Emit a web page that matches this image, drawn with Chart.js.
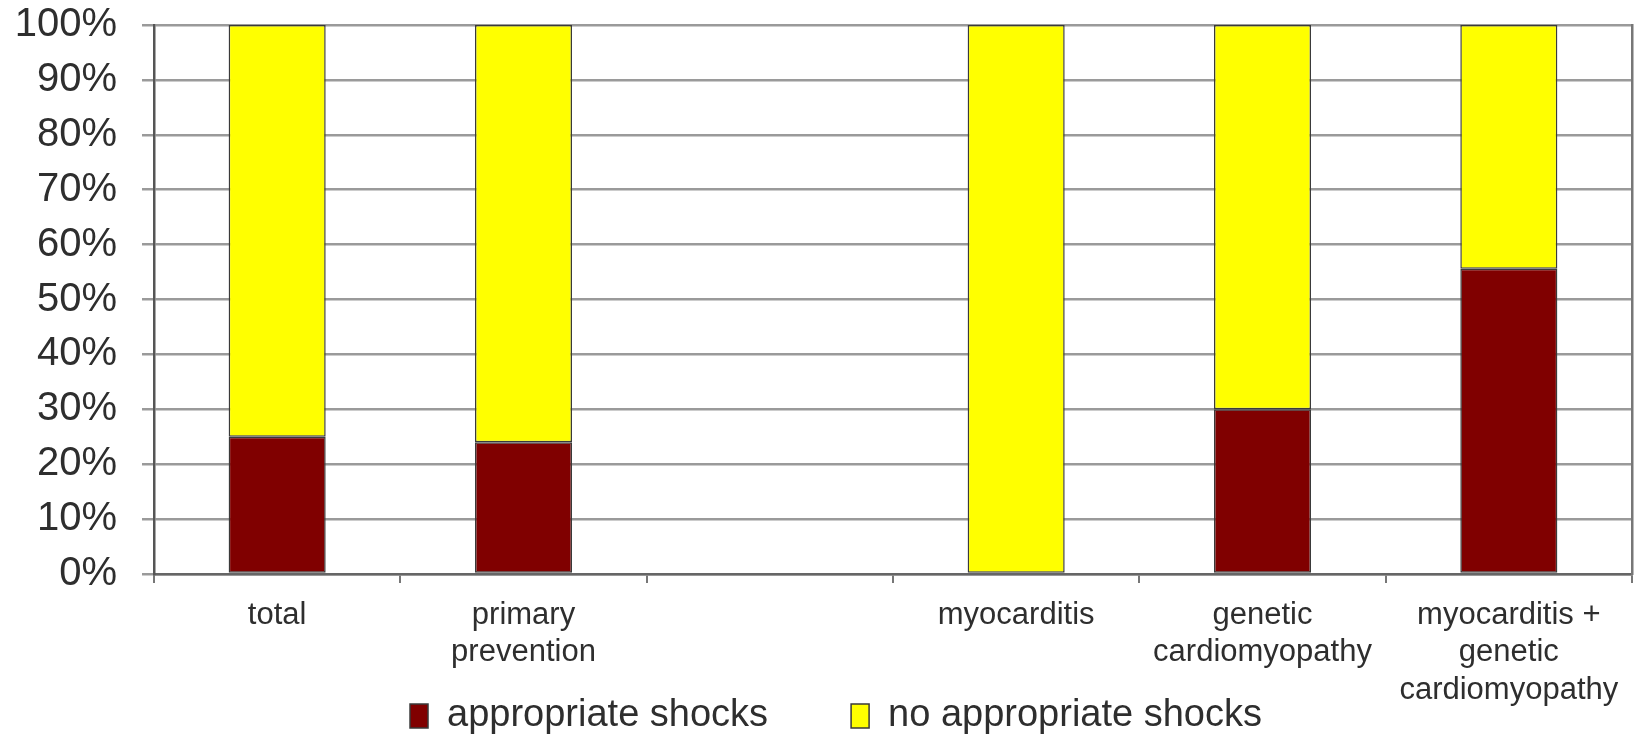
<!DOCTYPE html>
<html>
<head>
<meta charset="utf-8">
<script src="https://cdn.jsdelivr.net/npm/chart.js@4/dist/chart.umd.min.js"></script>
<style>
  html, body { margin: 0; padding: 0; background: #ffffff; }
  #wrap { width: 1636px; height: 738px; position: relative; }
</style>
</head>
<body>
<div id="wrap"><canvas id="c" width="1636" height="738"></canvas></div>
<script>
// ---- data ----
const categories = [
  'total',
  ['primary', 'prevention'],
  '',
  'myocarditis',
  ['genetic', 'cardiomyopathy'],
  ['myocarditis +', 'genetic', 'cardiomyopathy']
];
const seriesNames = ['appropriate shocks', 'no appropriate shocks'];
const appropriateShocks = [25, 24, null, 0, 30, 55.6];
const noAppropriateShocks = [75, 76, null, 100, 70, 44.4];
const yTickMax = 100;
const yTickStep = 10;

const textColor = '#2e2e2e';
const fontFamily = '"Liberation Sans", Arial, sans-serif';

// let the multi-line category labels run below the thin x-axis box
const noLabelClip = {
  id: 'noLabelClip',
  beforeDraw(chart) {
    chart.scales.x._computeLabelArea = () => undefined;
  }
};

new Chart(document.getElementById('c'), {
  type: 'bar',
  data: {
    labels: categories,
    datasets: [
      {
        label: seriesNames[0],
        data: appropriateShocks,
        xAxisID: 'x',
        yAxisID: 'y',
        backgroundColor: '#800000',
        borderColor: '#3a3a3a',
        borderWidth: 1.5,
        borderSkipped: false
      },
      {
        label: seriesNames[1],
        data: noAppropriateShocks,
        xAxisID: 'x',
        yAxisID: 'y',
        backgroundColor: '#ffff00',
        borderColor: '#3a3a3a',
        borderWidth: 1.5,
        borderSkipped: false
      }
    ]
  },
  plugins: [noLabelClip],
  options: {
    responsive: false,
    animation: false,
    devicePixelRatio: 1,
    layout: { padding: { left: 0, right: -36, top: 0, bottom: -7 } },
    datasets: { bar: { categoryPercentage: 1.0, barPercentage: 0.394 } },
    plugins: {
      legend: {
        position: 'bottom',
        labels: {
          color: textColor,
          font: { family: fontFamily, size: 38 },
          boxWidth: 18,
          boxHeight: 24,
          padding: 83
        }
      },
      tooltip: { enabled: false }
    },
    scales: {
      x: {
        stacked: true,
        offset: true,
        afterFit: (s) => { s.height = 40; },
        grid: {
          offset: true,
          drawOnChartArea: false,
          drawTicks: true,
          tickLength: 9,
          color: '#777777',
          lineWidth: 2
        },
        border: { display: true, color: '#666666', width: 2.5 },
        ticks: {
          autoSkip: false,
          maxRotation: 0,
          minRotation: 0,
          padding: 14,
          color: textColor,
          font: { family: fontFamily, size: 31, lineHeight: 1.2 }
        }
      },
      y: {
        position: 'left',
        weight: 0,
        stacked: true,
        min: 0,
        max: yTickMax,
        afterFit: (s) => { s.width = 36; },
        grid: {
          color: '#9a9a9a',
          lineWidth: 2.5,
          tickLength: 12,
          drawTicks: true
        },
        border: { display: true, color: '#555555', width: 2.5 },
        ticks: { display: false, stepSize: yTickStep }
      },
      yLabels: {
        position: 'left',
        weight: 1,
        min: 0,
        max: yTickMax,
        afterFit: (s) => { s.width = 118; },
        grid: { display: false, drawTicks: false, tickLength: 0 },
        border: { display: false },
        ticks: {
          stepSize: yTickStep,
          padding: 1,
          color: textColor,
          font: { family: fontFamily, size: 40 },
          callback: (v) => v + '%'
        }
      },
      yRight: {
        position: 'right',
        min: 0,
        max: yTickMax,
        afterFit: (s) => { s.width = 40; },
        grid: { drawOnChartArea: false, drawTicks: false },
        border: { display: true, color: '#777777', width: 2.5 },
        ticks: { display: false }
      }
    }
  }
});
</script>
</body>
</html>
